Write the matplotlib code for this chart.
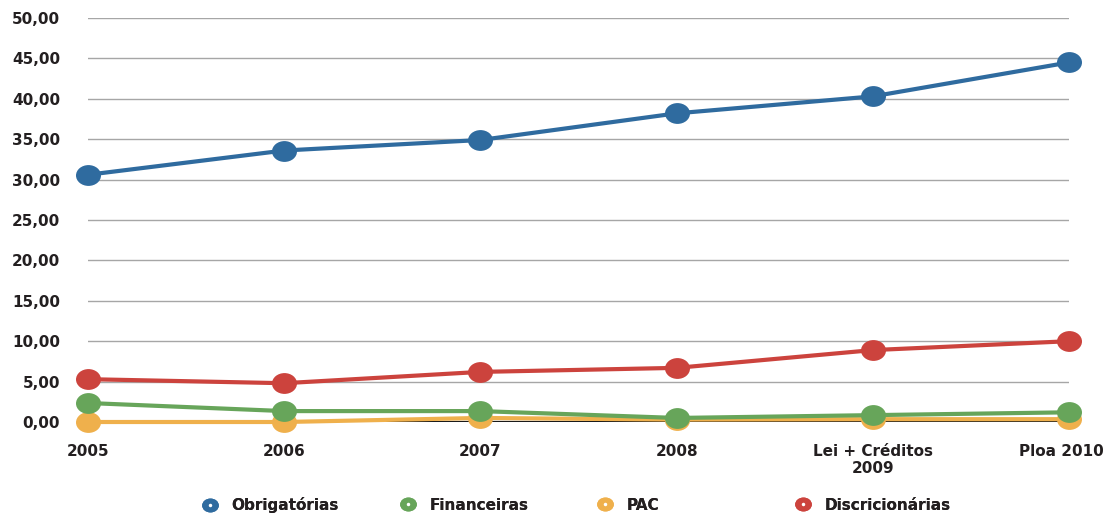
import matplotlib.pyplot as plt
from matplotlib.lines import Line2D
from matplotlib.path import Path
from matplotlib.transforms import Affine2D, ScaledTranslation
from matplotlib.legend_handler import HandlerTuple

categories = ["2005", "2006", "2007", "2008", "Lei + Créditos\n2009", "Ploa 2010"]
obrigatorias = [30.6, 33.6, 34.9, 38.2, 40.3, 44.5]
financeiras = [2.35, 1.35, 1.35, 0.5, 0.85, 1.2]
pac = [0.0, 0.0, 0.5, 0.3, 0.35, 0.35]
discricionarias = [5.3, 4.8, 6.2, 6.7, 8.9, 10.0]
y_ticks = [0, 5, 10, 15, 20, 25, 30, 35, 40, 45, 50]

BLUE = "#2f6b9f"
GREEN = "#67a55a"
ORANGE = "#efb04c"
RED = "#cc433d"
TEXT = "#231f20"

plt.rcParams["font.family"] = ["DejaVu Sans"]

ellipse = Path.unit_circle().transformed(Affine2D().scale(1.2, 1.0))

fig = plt.figure(figsize=(11.13, 5.15), dpi=100)
ax = fig.add_axes([88 / 1113, 93 / 515, (1069 - 88) / 1113, 404 / 515])

x = list(range(len(categories)))
series = [
    ("PAC", pac, ORANGE),
    ("Financeiras", financeiras, GREEN),
    ("Discricionárias", discricionarias, RED),
    ("Obrigatórias", obrigatorias, BLUE),
]

for yv in y_ticks[1:]:
    ax.axhline(yv, color="#a6a6a6", linewidth=1.0, zorder=0)
ax.axhline(0, color="#1a1a1a", linewidth=1.6, zorder=1)

for name, vals, col in series:
    ax.plot(x, vals, color=col, linewidth=3.0, marker=ellipse, markersize=18,
            markeredgewidth=0, clip_on=False, zorder=3, solid_capstyle="round")

ax.set_xlim(0, 5)
ax.set_ylim(0, 50)
ax.set_yticks(y_ticks)
ax.set_yticklabels([f"{v:.2f}".replace(".", ",") for v in y_ticks])
ax.set_xticks(x)
ax.set_xticklabels(categories)
ax.tick_params(axis="y", length=0, pad=20, labelsize=11, labelcolor=TEXT)
ax.tick_params(axis="x", length=0, pad=16, labelsize=11, labelcolor=TEXT)
for lab in ax.get_xticklabels() + ax.get_yticklabels():
    lab.set_fontweight("bold")
    lab.set_linespacing(1.15)
# last label sits a little left so it fits the image
last = ax.get_xticklabels()[-1]
last.set_transform(last.get_transform() + ScaledTranslation(-8 / 100, 0, fig.dpi_scale_trans))
for sp in ax.spines.values():
    sp.set_visible(False)

# legend entries placed one by one at even spacing
legend_items = [("Obrigatórias", BLUE), ("Financeiras", GREEN), ("PAC", ORANGE), ("Discricionárias", RED)]
legend_x = [201, 399, 596, 794]
for (name, col), lx in zip(legend_items, legend_x):
    outer = Line2D([], [], linestyle="none", marker=ellipse, markersize=12, markerfacecolor=col, markeredgewidth=0)
    inner = Line2D([], [], linestyle="none", marker="o", markersize=2.5, markerfacecolor="white", markeredgewidth=0)
    leg = fig.legend([(outer, inner)], [name], handler_map={tuple: HandlerTuple(ndivide=1)},
                     loc="center left", bbox_to_anchor=(lx / 1113, 10 / 515), frameon=False,
                     handlelength=1.2, handletextpad=0.8, borderaxespad=0, borderpad=0,
                     prop={"size": 11, "weight": "bold"})
    for t in leg.get_texts():
        t.set_color(TEXT)
    fig.add_artist(leg)

fig.savefig("out.png", dpi=100)
